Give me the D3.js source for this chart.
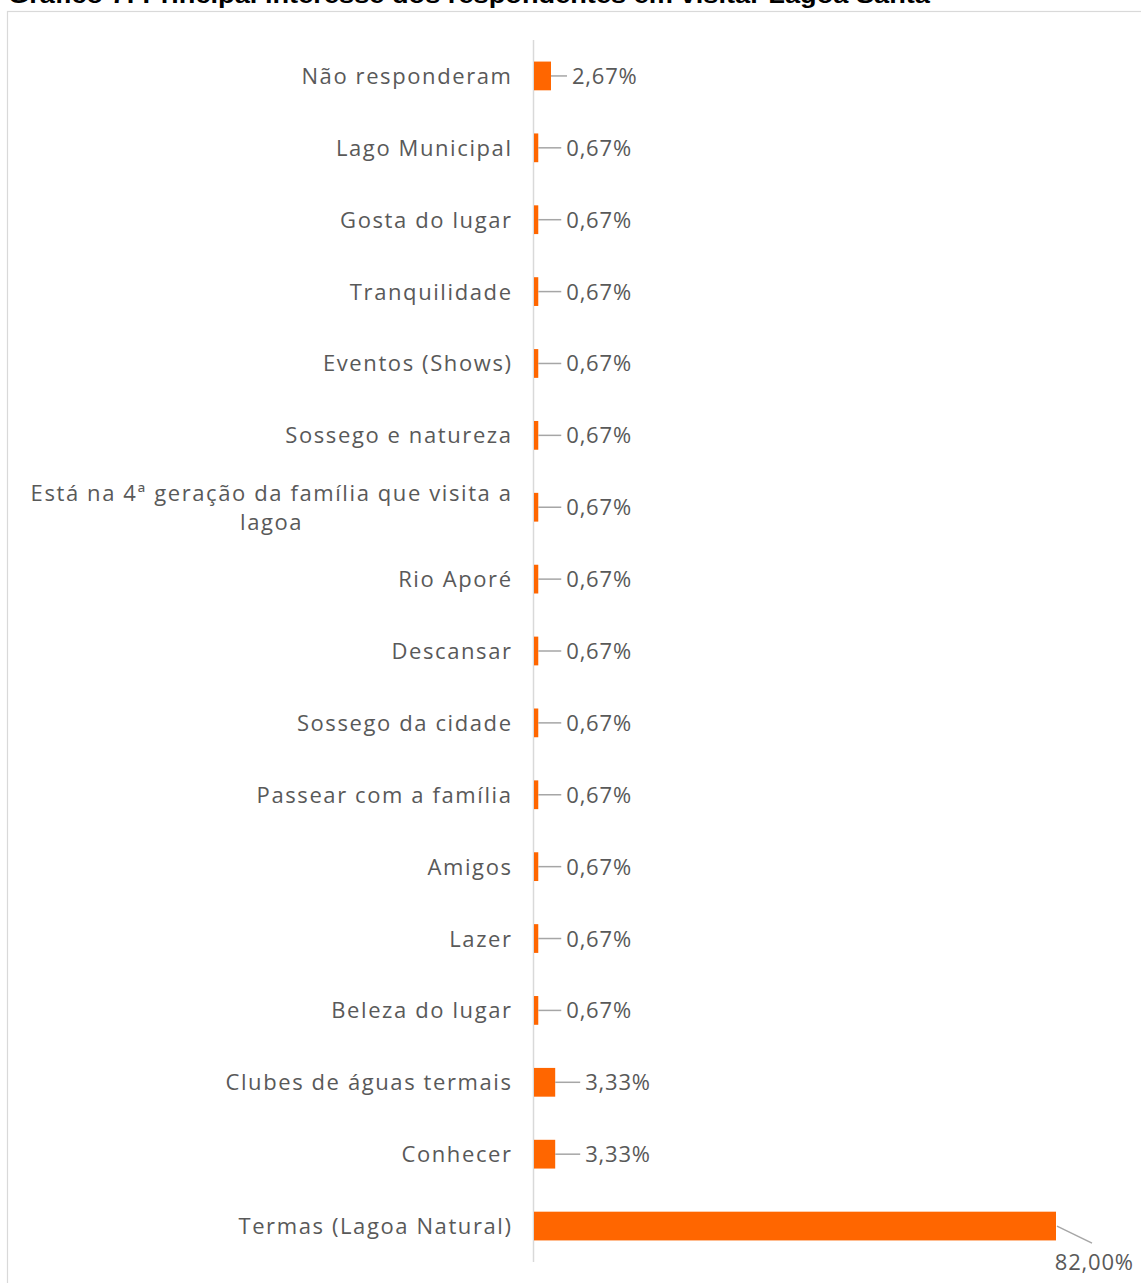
<!DOCTYPE html>
<html>
<head>
<meta charset="utf-8">
<script src="https://cdn.jsdelivr.net/npm/d3@7"></script>
<style>
  html, body { margin: 0; padding: 0; background: #fff; }
  svg { display: block; }
</style>
</head>
<body>
<svg id="chart" width="1141" height="1283"></svg>
<script>
const titleText = "Gráfico 7: Principal interesse dos respondentes em visitar Lagoa Santa";
const categories = [
  "Não responderam",
  "Lago Municipal",
  "Gosta do lugar",
  "Tranquilidade",
  "Eventos (Shows)",
  "Sossego e natureza",
  "Está na 4ª geração da família que visita a lagoa",
  "Rio Aporé",
  "Descansar",
  "Sossego da cidade",
  "Passear com a família",
  "Amigos",
  "Lazer",
  "Beleza do lugar",
  "Clubes de águas termais",
  "Conhecer",
  "Termas (Lagoa Natural)"
];
const values = [2.67, 0.67, 0.67, 0.67, 0.67, 0.67, 0.67, 0.67, 0.67, 0.67, 0.67, 0.67, 0.67, 0.67, 3.33, 3.33, 82.00];
const valueLabels = ["2,67%", "0,67%", "0,67%", "0,67%", "0,67%", "0,67%", "0,67%", "0,67%", "0,67%", "0,67%", "0,67%", "0,67%", "0,67%", "0,67%", "3,33%", "3,33%", "82,00%"];

const svg = d3.select("#chart");
const FONT = "'Century Gothic','URW Gothic','Open Sans',sans-serif";
const TEXT = "#595959";
const LS = 1.6;

// title (cropped at top, as in the source image)
svg.append("text")
  .attr("x", 8).attr("y", 3)
  .attr("font-family", "'Liberation Sans', Arial, sans-serif")
  .attr("font-weight", "bold")
  .attr("font-size", 24)
  .attr("textLength", 922)
  .attr("lengthAdjust", "spacingAndGlyphs")
  .attr("fill", "#000")
  .text(titleText);

// chart frame
svg.append("rect")
  .attr("x", 7.5).attr("y", 11.5)
  .attr("width", 1150).attr("height", 1300)
  .attr("fill", "none").attr("stroke", "#d9d9d9").attr("stroke-width", 1.2);

const x0 = 534;
const x = d3.scaleLinear().domain([0, 82]).range([x0, 1056]);
const y = d3.scaleBand().domain(categories).range([40, 1262]).paddingInner(0.6).paddingOuter(0.3);

// axis line
svg.append("line")
  .attr("x1", 533.5).attr("x2", 533.5)
  .attr("y1", 40).attr("y2", 1262)
  .attr("stroke", "#d9d9d9").attr("stroke-width", 1.5);

const rows = categories.map((c, i) => ({ c, v: values[i], lab: valueLabels[i], i }));

// bars
svg.append("g").selectAll("rect").data(rows).join("rect")
  .attr("x", x(0))
  .attr("y", d => y(d.c))
  .attr("width", d => Math.max(x(d.v) - x(0), 3))
  .attr("height", y.bandwidth())
  .attr("fill", "#FF6600");

// category labels
const catG = svg.append("g");
rows.forEach(d => {
  const cy = y(d.c) + y.bandwidth() / 2;
  const t = catG.append("text")
    .attr("font-family", FONT).attr("font-size", 22).attr("fill", TEXT)
    .attr("letter-spacing", LS)
    .attr("text-anchor", "end");
  if (d.c.length > 30) {
    const lines = ["Está na 4ª geração da família que visita a", "lagoa"];
    t.attr("text-anchor", "middle");
    lines.forEach((ln, k) => {
      t.append("tspan").attr("x", 0).attr("y", cy - 6 + k * 29).text(ln);
    });
    const w = t.node().getBBox().width;
    t.selectAll("tspan").attr("x", 511 + LS - w / 2);
  } else {
    t.attr("x", 511 + LS).attr("y", cy + 8).text(d.c);
  }
});

// value labels with leader lines
const labG = svg.append("g");
rows.forEach(d => {
  const cy = y(d.c) + y.bandwidth() / 2;
  const xe = Math.max(x(d.v), x(0) + 3);
  if (d.v > 50) {
    labG.append("line")
      .attr("x1", xe + 1).attr("y1", cy)
      .attr("x2", xe + 36).attr("y2", cy + 17)
      .attr("stroke", "#a6a6a6").attr("stroke-width", 1.5);
    labG.append("text")
      .attr("x", 1133 + 0.8).attr("y", cy + 44)
      .attr("text-anchor", "end")
      .attr("letter-spacing", 0.8)
      .attr("font-family", FONT).attr("font-size", 22).attr("fill", TEXT)
      .text(d.lab);
  } else {
    const gap = d.v > 3 ? 30 : (d.v > 2 ? 21 : 28);
    labG.append("line")
      .attr("x1", xe).attr("y1", cy)
      .attr("x2", xe + gap - 5).attr("y2", cy)
      .attr("stroke", "#a6a6a6").attr("stroke-width", 1.5);
    labG.append("text")
      .attr("x", xe + gap).attr("y", cy + 8)
      .attr("letter-spacing", 0.8)
      .attr("font-family", FONT).attr("font-size", 22).attr("fill", TEXT)
      .text(d.lab);
  }
});
</script>
</body>
</html>
